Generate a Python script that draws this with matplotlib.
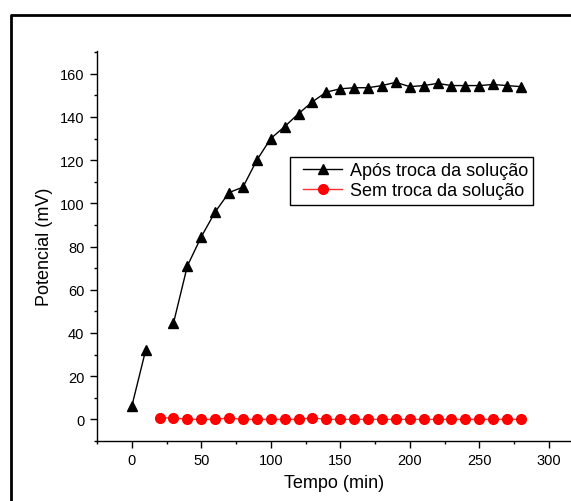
import numpy as np
import matplotlib.pyplot as plt
from matplotlib.lines import Line2D
from matplotlib.legend_handler import HandlerLine2D
from matplotlib.ticker import MultipleLocator

plt.rcParams['font.family'] = ['Liberation Sans', 'DejaVu Sans']

# Após troca da solução (sem ponto em 20 min)
tempo_apos = [0, 10, 20, 30, 40, 50, 60, 70, 80, 90, 100, 110, 120, 130, 140,
              150, 160, 170, 180, 190, 200, 210, 220, 230, 240, 250, 260, 270, 280]
pot_apos = [6, 32, np.nan, 44.5, 71, 84.5, 96, 105, 107.5, 120, 130, 135.5, 141.5, 147, 151.5,
            153, 153.5, 153.5, 154.5, 156, 154, 154.5, 155.5, 154.5, 154.5, 154.5, 155, 154.5, 154]

# Sem troca da solução
tempo_sem = list(range(20, 281, 10))
pot_sem = [0.7, 0.7, 0, 0, 0, 0.7, 0, 0, 0, 0, 0, 0.7, 0, 0,
           0, 0, 0, 0, 0, 0, 0, 0, 0, 0, 0, 0, 0]

fig = plt.figure(figsize=(5.71, 5.02), dpi=100)
ax = fig.add_axes([97/571, 60/502, 1 - 97/571, 390/502])

ax.plot(tempo_apos, pot_apos, color='black', lw=1, marker='^', ms=7.5,
        label='Após troca da solução')
ax.plot(tempo_sem, pot_sem, color='#ff3030', lw=1, marker='o', ms=7,
        markerfacecolor='red', markeredgecolor='red', label='Sem troca da solução')

ax.set_xlim(-25, 316)
ax.set_ylim(-10, 170.5)
ax.xaxis.set_major_locator(MultipleLocator(50))
ax.xaxis.set_minor_locator(MultipleLocator(25))
ax.yaxis.set_major_locator(MultipleLocator(20))
ax.yaxis.set_minor_locator(MultipleLocator(10))
ax.tick_params(which='major', direction='out', length=5, width=1, labelsize=10.5, pad=4)
ax.tick_params(which='minor', direction='out', length=2.5, width=1)
for s in ['top', 'right']:
    ax.spines[s].set_visible(False)
for s in ['left', 'bottom']:
    ax.spines[s].set_linewidth(1)

ax.set_xlabel('Tempo (min)', fontsize=13, labelpad=5)
ax.set_ylabel('Potencial (mV)', fontsize=13, labelpad=5)

leg = ax.legend(loc='upper left', bbox_to_anchor=(0.407, 0.728), fontsize=13,
                fancybox=False, edgecolor='black', framealpha=1, borderaxespad=0,
                handlelength=2.6, handletextpad=0.4, borderpad=0.3, labelspacing=0.15,
                handler_map={Line2D: HandlerLine2D(xpad=0.45)})
leg.get_frame().set_linewidth(1)

# moldura externa
x0 = 10.5 / 571
y1 = 1 - 15.5 / 502
fig.add_artist(Line2D([x0, x0, 1], [0, y1, y1], transform=fig.transFigure,
                      color='black', lw=2))

fig.savefig('out.png', dpi=100)
